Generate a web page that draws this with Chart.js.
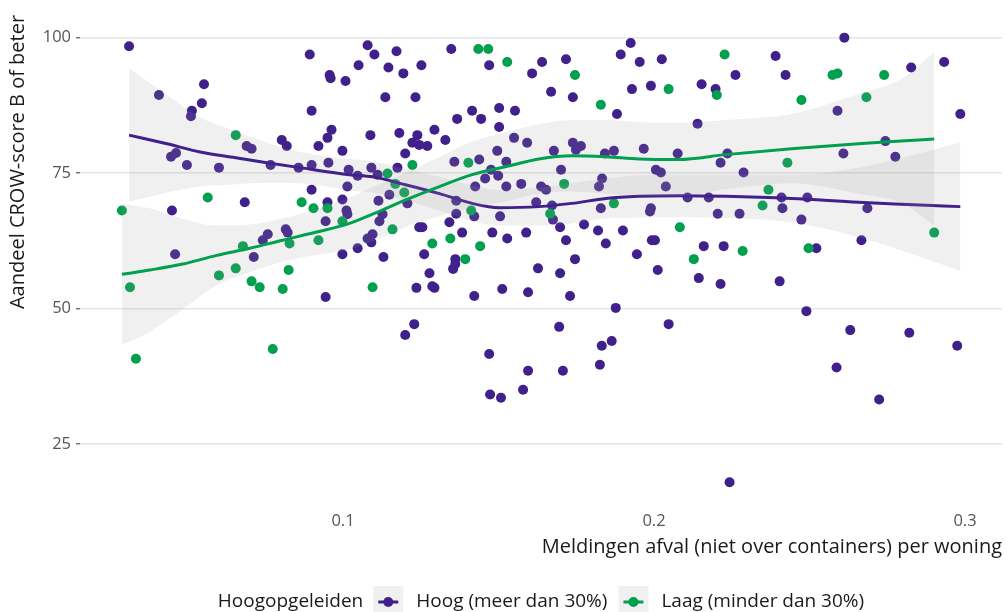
<!DOCTYPE html>
<html lang="nl">
<head>
<meta charset="utf-8">
<title>Meldingen afval en CROW-score per buurt</title>
<script src="https://cdn.jsdelivr.net/npm/chart.js@4.4.1/dist/chart.umd.min.js"></script>
<style>
  html, body { margin: 0; padding: 0; background: #ffffff; }
  #wrap { width: 1007px; height: 612px; position: relative; }
  canvas { display: block; }
</style>
</head>
<body>
<div id="wrap"><canvas id="grafiek" width="1007" height="612"></canvas></div>
<script>
// Buurten met veel hoogopgeleiden: [meldingen per woning, aandeel CROW B of beter]
const hoogPunten = [
  [0.0312,98.4],[0.0408,89.4],[0.0553,91.4],[0.0546,87.9],[0.0514,86.5],[0.0511,85.5],[0.0893,96.9],[0.0957,93.1],[0.0960,92.5],[0.0899,86.5],
  [0.0963,83.0],[0.0950,81.5],[0.0921,80.0],[0.0803,81.1],[0.0819,80.0],[0.0690,80.0],[0.0706,79.5],[0.0447,78.0],[0.0463,78.7],[0.0498,76.5],
  [0.0601,76.0],[0.0767,76.5],[0.0857,76.0],[0.0899,76.5],[0.0953,76.9],[0.0998,79.1],[0.0899,71.9],[0.0684,69.6],[0.0450,68.1],[0.0950,69.6],
  [0.0998,70.1],[0.0944,66.1],[0.0816,64.6],[0.0822,64.0],[0.0758,63.7],[0.0742,62.6],[0.0713,59.5],[0.0460,60.0],[0.0944,52.1],
  [0.1079,98.6],[0.1101,96.9],[0.1172,97.5],[0.1050,94.9],[0.1146,94.5],[0.1194,93.4],[0.1252,94.9],[0.1348,97.9],[0.1470,94.9],[0.1608,93.4],
  [0.1640,95.5],[0.1717,96.0],[0.1893,96.9],[0.1925,99.0],[0.1954,95.5],[0.2025,96.0],[0.1008,92.0],[0.1136,89.0],[0.1233,89.0],[0.1669,90.0],
  [0.1739,89.0],[0.1929,90.5],[0.1990,91.1],[0.1881,85.9],[0.1415,86.5],[0.1444,85.0],[0.1502,87.0],[0.1553,86.5],[0.1367,85.0],[0.1502,83.5],
  [0.1088,82.0],[0.1181,82.4],[0.1239,82.0],[0.1223,80.6],[0.1245,80.2],[0.1271,80.0],[0.1294,83.0],[0.1329,81.1],[0.1200,78.6],[0.1550,81.5],
  [0.1592,80.6],[0.1496,79.1],[0.1678,79.1],[0.1739,80.6],[0.1765,80.0],[0.1749,79.3],[0.1842,78.6],[0.1871,79.1],[0.1967,79.5],[0.1358,77.1],
  [0.1438,77.5],[0.1525,77.1],[0.1476,75.6],[0.1499,74.5],[0.1457,74.0],[0.1425,72.5],[0.1525,72.5],[0.1573,73.0],[0.1637,72.5],[0.1653,71.9],
  [0.1701,75.6],[0.1833,74.0],[0.1823,72.5],[0.2006,75.6],[0.2022,75.1],[0.2038,72.5],[0.1091,76.0],[0.1175,76.0],[0.1018,75.6],[0.1047,74.5],
  [0.1111,74.7],[0.1014,72.5],[0.1149,71.0],[0.1114,69.9],[0.1207,69.4],[0.1364,69.9],[0.1364,67.5],[0.1422,67.0],[0.1505,67.0],[0.1621,69.6],
  [0.1672,69.0],[0.1675,66.4],[0.1698,65.0],[0.1829,68.5],[0.1990,68.5],[0.1987,67.9],[0.1011,68.1],[0.1014,67.4],[0.1127,67.4],[0.1117,66.1],
  [0.1245,65.0],[0.1255,65.0],[0.1079,62.9],[0.1095,63.7],[0.1091,62.2],[0.1047,61.1],[0.0998,60.0],[0.1130,59.5],[0.1342,65.9],[0.1383,64.0],
  [0.1480,64.0],[0.1528,62.9],[0.1589,64.0],[0.1717,62.6],[0.1775,65.5],[0.1820,64.4],[0.1845,62.0],[0.1900,64.4],[0.1993,62.6],[0.2003,62.6],
  [0.1945,60.0],[0.2012,57.1],[0.1746,59.1],[0.1627,57.4],[0.1698,56.5],[0.1261,60.0],[0.1278,56.5],[0.1361,59.1],[0.1354,57.3],[0.1361,58.2],
  [0.1236,53.8],[0.1287,54.1],[0.1294,53.8],[0.1512,53.6],[0.1595,53.0],[0.1422,52.3],[0.1730,52.3],
  [0.2391,96.6],[0.2612,100.0],[0.2262,93.1],[0.2423,93.1],[0.2153,91.4],[0.2198,90.5],[0.2827,94.5],[0.2933,95.5],[0.2985,85.9],[0.2590,86.5],
  [0.2140,84.1],[0.2744,80.9],[0.2076,78.6],[0.2236,78.6],[0.2214,76.9],[0.2609,78.6],[0.2776,78.0],[0.2288,75.1],[0.2108,70.5],[0.2176,70.5],
  [0.2410,70.5],[0.2493,70.5],[0.2205,67.5],[0.2275,67.5],[0.2413,68.5],[0.2474,66.4],[0.2686,68.5],[0.2667,62.6],[0.2522,61.1],[0.2160,61.5],
  [0.2224,61.5],[0.2144,55.6],[0.2214,54.5],[0.2404,55.0],
  [0.1877,50.1],[0.1695,46.6],[0.1229,47.1],[0.1200,45.1],[0.1470,41.6],[0.1595,38.5],[0.1707,38.5],[0.1832,43.1],[0.1864,44.0],[0.1826,39.6],
  [0.1473,34.1],[0.1508,33.5],[0.1579,35.0],[0.2047,47.1],[0.2490,49.5],[0.2631,46.0],[0.2821,45.5],[0.2975,43.1],[0.2587,39.1],[0.2724,33.2],
  [0.2243,17.9]
];

// Buurten met weinig hoogopgeleiden
const laagPunten = [
  [0.0289,68.1],[0.0315,53.9],[0.0334,40.7],[0.0565,70.5],[0.0655,82.0],[0.0601,56.1],[0.0655,57.4],[0.0678,61.5],[0.0706,55.0],[0.0732,53.9],
  [0.0774,42.5],[0.0806,53.6],[0.0825,57.1],[0.0828,62.0],[0.0867,69.6],[0.0905,68.5],[0.0950,68.5],[0.0921,62.6],[0.0998,66.1],[0.1095,53.9],
  [0.1143,74.9],[0.1168,73.0],[0.1197,71.4],[0.1159,64.6],[0.1223,76.5],[0.1287,62.0],[0.1345,62.9],[0.1393,59.1],[0.1412,68.1],[0.1403,76.9],
  [0.1441,61.5],[0.1435,97.9],[0.1467,97.9],[0.1528,95.5],[0.1666,67.5],[0.1711,73.0],[0.1746,93.1],[0.1829,87.6],[0.1871,69.4],[0.2047,90.5],
  [0.2083,65.0],[0.2128,59.1],[0.2227,96.9],[0.2202,89.4],[0.2285,60.6],[0.2349,69.0],[0.2368,71.9],[0.2429,76.9],[0.2474,88.5],[0.2497,61.1],
  [0.2574,93.1],[0.2590,93.4],[0.2683,89.0],[0.2740,93.1],[0.2901,64.0]
];

// Loess-trend met betrouwbaarheidsband, Hoog
const hoogTrendX  = [0.0312,0.0434,0.0540,0.0646,0.0755,0.0861,0.1021,0.1095,0.1204,0.1310,0.1415,0.1502,0.1630,0.1736,0.1845,0.1951,0.2080,0.2230,0.2442,0.2657,0.2817,0.2985];
const hoogTrend   = [82.0,80.4,78.9,77.9,76.9,76.0,74.7,74.3,72.8,71.2,69.4,68.6,68.8,69.4,70.3,70.7,70.8,70.7,70.3,69.6,69.2,68.8];
const hoogBoven   = [94.3,89.4,85.3,82.9,80.6,78.9,77.6,77.2,75.7,74.3,72.7,71.9,72.3,73.1,74.0,74.6,74.7,74.7,74.7,76.0,78.1,80.7];
const hoogOnder   = [69.7,71.4,72.5,72.9,73.2,73.1,71.8,71.4,69.9,68.1,66.1,65.3,65.3,65.7,66.6,66.8,66.9,66.7,65.9,63.2,60.3,56.9];

// Loess-trend met betrouwbaarheidsband, Laag
const laagTrendX  = [0.0289,0.0379,0.0485,0.0594,0.0700,0.0806,0.0915,0.1021,0.1095,0.1204,0.1310,0.1415,0.1525,0.1630,0.1736,0.1845,0.1951,0.2080,0.2230,0.2442,0.2657,0.2794,0.2901];
const laagTrend   = [56.3,57.1,58.2,59.8,61.1,62.6,64.1,65.7,67.4,70.1,72.5,74.7,76.2,77.6,78.2,78.0,77.6,77.5,78.4,79.5,80.4,80.9,81.3];
const laagBoven   = [69.3,68.5,66.5,65.3,65.5,66.6,68.3,70.5,72.4,75.1,78.0,80.8,82.6,84.0,84.8,84.8,84.4,84.3,84.8,85.9,89.6,92.3,97.3];
const laagOnder   = [43.3,45.7,49.9,54.3,56.7,58.6,59.9,60.9,62.4,65.1,67.0,68.6,69.8,71.2,71.6,71.2,70.8,70.7,72.0,73.1,71.2,69.5,65.3];

// As-ticks en teksten
const xTicks = [0.1, 0.2, 0.3];
const yTicks = [25, 50, 75, 100];
const xTitel = 'Meldingen afval (niet over containers) per woning';
const yTitel = 'Aandeel CROW-score B of beter';
const legendaTitel = 'Hoogopgeleiden';
const groepen = ['Hoog (meer dan 30%)', 'Laag (minder dan 30%)'];

// Stijl
const PAARS = '#40218c';
const GROEN = '#00a04f';
const LINT = 'rgba(153,153,153,0.15)';
const FONT = '"Open Sans", Lato, sans-serif';
const TEKST = '#1a1a1a';
const TICKKLEUR = '#555555';

// Asbereik (data-bereik plus 5% marge)
const X_MIN = 0.01542, X_MAX = 0.3119;
const Y_MIN = 13.8, Y_MAX = 104.2;

const alsPunten = lijst => lijst.map(([x, y]) => ({ x, y }));
const koppel = (xs, ys) => xs.map((x, i) => ({ x, y: ys[i] }));

function trendSets(label, xs, trend, boven, onder, kleur, orde) {
  return [
    { type: 'line', label: label + ' band', data: koppel(xs, boven), fill: '+1', backgroundColor: LINT,
      borderColor: 'rgba(0,0,0,0)', borderWidth: 0, pointRadius: 0, cubicInterpolationMode: 'monotone', order: orde + 1 },
    { type: 'line', label: label + ' band onder', data: koppel(xs, onder), fill: false,
      borderColor: 'rgba(0,0,0,0)', borderWidth: 0, pointRadius: 0, cubicInterpolationMode: 'monotone', order: orde + 1 },
    { type: 'line', label: label + ' trend', data: koppel(xs, trend), fill: false, borderColor: kleur, borderWidth: 3,
      pointRadius: 0, cubicInterpolationMode: 'monotone', order: orde }
  ];
}

// Legenda onder de grafiek, gecentreerd onder het plotvlak
const legendaPlugin = {
  id: 'legenda',
  afterDraw(chart) {
    const { ctx, chartArea } = chart;
    const y = 602;
    const kader = 30, gatNaTitel = 10, gatNaKader = 13, gatNaLabel = 11;
    ctx.save();
    ctx.font = `19px ${FONT}`;
    ctx.textBaseline = 'middle';
    ctx.textAlign = 'left';
    const kleuren = [PAARS, GROEN];
    let totaal = ctx.measureText(legendaTitel).width + gatNaTitel;
    groepen.forEach((g, i) => {
      totaal += kader + gatNaKader + ctx.measureText(g).width + (i < groepen.length - 1 ? gatNaLabel : 0);
    });
    let x = (chartArea.left + chartArea.right) / 2 - totaal / 2;
    ctx.fillStyle = TEKST;
    ctx.fillText(legendaTitel, x, y);
    x += ctx.measureText(legendaTitel).width + gatNaTitel;
    groepen.forEach((g, i) => {
      ctx.fillStyle = LINT;
      ctx.fillRect(x, y - 16, kader, 32);
      ctx.strokeStyle = kleuren[i];
      ctx.lineWidth = 3;
      ctx.beginPath();
      ctx.moveTo(x + 5, y);
      ctx.lineTo(x + kader - 5, y);
      ctx.stroke();
      ctx.fillStyle = kleuren[i];
      ctx.beginPath();
      ctx.arc(x + kader / 2, y, 5, 0, Math.PI * 2);
      ctx.fill();
      x += kader + gatNaKader;
      ctx.fillStyle = TEKST;
      ctx.fillText(g, x, y);
      x += ctx.measureText(g).width + gatNaLabel;
    });
    ctx.restore();
  }
};

new Chart(document.getElementById('grafiek'), {
  type: 'scatter',
  data: {
    datasets: [
      { label: groepen[0], data: alsPunten(hoogPunten), backgroundColor: PAARS, borderWidth: 0, pointRadius: 5, order: 9 },
      { label: groepen[1], data: alsPunten(laagPunten), backgroundColor: GROEN, borderWidth: 0, pointRadius: 5, order: 8 },
      ...trendSets('Hoog', hoogTrendX, hoogTrend, hoogBoven, hoogOnder, PAARS, 6),
      ...trendSets('Laag', laagTrendX, laagTrend, laagBoven, laagOnder, GROEN, 4)
    ]
  },
  options: {
    responsive: false,
    devicePixelRatio: 1,
    animation: false,
    events: [],
    layout: { padding: { top: 12.4, right: 3, bottom: 48, left: 0 } },
    plugins: { legend: { display: false }, tooltip: { enabled: false } },
    scales: {
      x: {
        type: 'linear', min: X_MIN, max: X_MAX,
        afterBuildTicks: s => { s.ticks = xTicks.map(v => ({ value: v })); },
        afterFit: s => { s.height = 59.5; },
        grid: { display: false, drawTicks: false },
        border: { display: false },
        ticks: { color: TICKKLEUR, font: { family: FONT, size: 16.5 }, padding: 7, callback: v => String(v) },
        title: { display: true, text: xTitel, align: 'end', color: TEKST, font: { family: FONT, size: 20 }, padding: { top: 0, bottom: 5 } }
      },
      y: {
        min: Y_MIN, max: Y_MAX,
        afterBuildTicks: s => { s.ticks = yTicks.map(v => ({ value: v })); },
        afterFit: s => { s.width = 80; },
        grid: { color: '#e6e6e6', lineWidth: 1.5, drawTicks: true, tickLength: 4, tickColor: TICKKLEUR, tickWidth: 1.2 },
        border: { display: false },
        ticks: { color: TICKKLEUR, font: { family: FONT, size: 16.5 }, padding: 5 },
        title: { display: true, text: yTitel, align: 'end', color: TEKST, font: { family: FONT, size: 20 }, padding: { top: 6, bottom: 0 } }
      }
    }
  },
  plugins: [legendaPlugin]
});
</script>
</body>
</html>
